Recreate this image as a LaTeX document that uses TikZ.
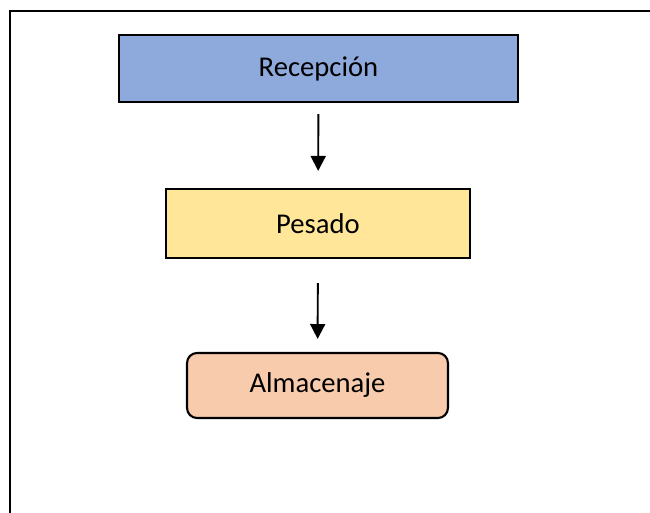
\documentclass[tikz,border=0pt]{standalone}
\usepackage{fontspec}
\setmainfont{Carlito}
\usepackage{xcolor}
\usetikzlibrary{arrows.meta}
\definecolor{recepblue}{HTML}{8EA9DB}
\definecolor{pesadoyellow}{HTML}{FFE699}
\definecolor{almacpeach}{HTML}{F8CBAD}

\begin{document}
\begin{tikzpicture}[x=0.02cm,y=-0.02cm,
    proc/.style={draw,line width=1.2pt,inner sep=0pt,font=\fontsize{16.3}{19}\selectfont},
    flow/.style={line width=1.1pt,-{Triangle[width=8.5pt,length=8.5pt]}}]
    \useasboundingbox (0,0) rectangle (650,513);
    \draw[line width=1.3pt] (10,513) -- (10,11) -- (650,11);
    \node[proc,fill=recepblue,minimum width=7.98cm,minimum height=1.34cm] (recep) at (318.5,68.5) {Recepción};
    \node[proc,fill=pesadoyellow,minimum width=6.08cm,minimum height=1.38cm] (pesado) at (318,223.5) {Pesado};
    \node[proc,fill=almacpeach,rounded corners=5.7pt,minimum width=5.22cm,minimum height=1.3cm] (almac) at (317.5,385.5) {Almacenaje};
    \draw[flow,shorten <=6.3pt,shorten >=9.7pt] (recep) to (pesado);
    \draw[flow,shorten <=13.7pt,shorten >=7.4pt] (pesado) to (almac);
\end{tikzpicture}
\end{document}
